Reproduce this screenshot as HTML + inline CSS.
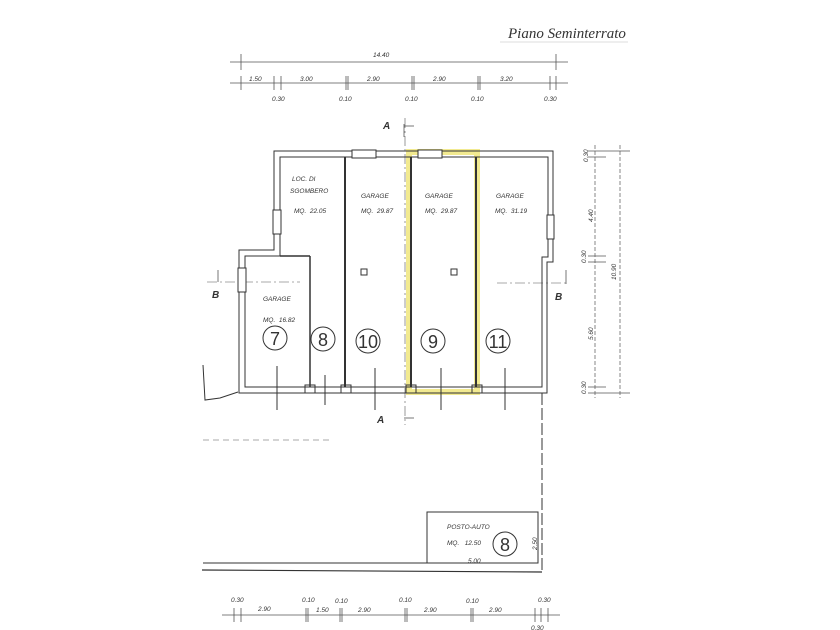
<!DOCTYPE html>
<html><head><meta charset="utf-8"><style>
html,body{margin:0;padding:0;background:#fff;}
svg{display:block}
text{font-family:"Liberation Sans",sans-serif;font-style:italic;fill:#333}
</style></head><body>
<svg width="840" height="630" viewBox="0 0 840 630" xmlns="http://www.w3.org/2000/svg">
<rect width="840" height="630" fill="#fff"/>
<!-- title -->
<text x="508" y="38" font-size="15" style="font-family:'Liberation Serif',serif" fill="#555">Piano Seminterrato</text>
<line x1="500" y1="42" x2="628" y2="42" stroke="#bbb" stroke-width="0.6"/>

<!-- top dimensions -->
<g stroke="#555" stroke-width="0.8" fill="none">
<line x1="230" y1="62" x2="568" y2="62"/>
<line x1="241" y1="54" x2="241" y2="70"/><line x1="556" y1="54" x2="556" y2="70"/>
<line x1="230" y1="83" x2="568" y2="83"/>
<line x1="241" y1="76" x2="241" y2="90"/><line x1="274" y1="76" x2="274" y2="90"/><line x1="281" y1="76" x2="281" y2="90"/>
<line x1="346" y1="76" x2="346" y2="90"/><line x1="348" y1="76" x2="348" y2="90"/>
<line x1="412" y1="76" x2="412" y2="90"/><line x1="414" y1="76" x2="414" y2="90"/>
<line x1="478" y1="76" x2="478" y2="90"/><line x1="480" y1="76" x2="480" y2="90"/>
<line x1="550" y1="76" x2="550" y2="90"/><line x1="556" y1="76" x2="556" y2="90"/>
</g>
<g font-size="6.5">
<text x="373" y="57">14.40</text>
<text x="249" y="81">1.50</text><text x="300" y="81">3.00</text><text x="367" y="81">2.90</text>
<text x="433" y="81">2.90</text><text x="500" y="81">3.20</text>
<text x="272" y="101">0.30</text><text x="339" y="101">0.10</text><text x="405" y="101">0.10</text>
<text x="471" y="101">0.10</text><text x="544" y="101">0.30</text>
</g>

<!-- section A -->
<g stroke="#555" stroke-width="0.8" fill="none">
<line x1="405" y1="118" x2="405" y2="425" stroke-dasharray="10,3,2,3" stroke-width="0.6"/>
<line x1="404" y1="126" x2="414" y2="126"/><line x1="404" y1="124" x2="404" y2="137"/>
<line x1="404" y1="418" x2="414" y2="418"/>
<line x1="207" y1="282" x2="300" y2="282" stroke-dasharray="10,3,2,3" stroke-width="0.6"/>
<line x1="497" y1="283" x2="568" y2="283" stroke-dasharray="10,3,2,3" stroke-width="0.6"/>
<line x1="218" y1="270" x2="218" y2="282"/><line x1="566" y1="270" x2="566" y2="284"/>
</g>
<g font-size="10" font-weight="bold">
<text x="383" y="129">A</text><text x="377" y="423">A</text>
<text x="212" y="298">B</text><text x="555" y="300">B</text>
</g>

<!-- highlight -->
<rect x="409" y="152" width="68" height="240" fill="none" stroke="#f2ea90" stroke-width="6"/>

<!-- walls -->
<g stroke="#333" stroke-width="1" fill="none">
<path d="M274,151 L553,151 L553,262 L547,262 L547,393 L239,393 L239,250 L274,250 Z"/>
<path d="M280,157 L548,157 L548,257 L542,257 L542,387 L245,387 L245,256 L280,256 Z"/>
<line x1="345" y1="157" x2="345" y2="387" stroke-width="2"/>
<line x1="411" y1="157" x2="411" y2="387" stroke-width="2"/>
<line x1="476" y1="157" x2="476" y2="387" stroke-width="2"/>
<line x1="280" y1="256" x2="310" y2="256" stroke-width="1.5"/>
<line x1="310" y1="256" x2="310" y2="387" stroke-width="1.5"/>
<!-- windows -->
<rect x="352" y="150" width="24" height="8" fill="#fff"/>
<rect x="418" y="150" width="24" height="8" fill="#fff"/>
<rect x="273" y="210" width="8" height="24" fill="#fff"/>
<rect x="547" y="215" width="7" height="24" fill="#fff"/>
<rect x="238" y="268" width="8" height="24" fill="#fff"/>
<!-- pillars -->
<rect x="361" y="269" width="6" height="6"/><rect x="451" y="269" width="6" height="6"/>
<!-- door marks -->
<rect x="305" y="385" width="10" height="8"/><rect x="341" y="385" width="10" height="8"/>
<rect x="406" y="385" width="10" height="8"/><rect x="472" y="385" width="10" height="8"/>
<line x1="277" y1="366" x2="277" y2="410"/><line x1="325" y1="375" x2="325" y2="405"/>
<line x1="375" y1="368" x2="375" y2="410"/><line x1="441" y1="368" x2="441" y2="410"/>
<line x1="505" y1="368" x2="505" y2="410"/>
<!-- left terrain -->
<path d="M203,365 L205,400 L220,398 L238,392"/>
<!-- lower boundary -->
<line x1="542" y1="393" x2="542" y2="572" stroke-dasharray="12,3"/>
<line x1="202" y1="570" x2="542" y2="572" stroke-width="1.2"/>
<line x1="203" y1="563" x2="427" y2="563"/>
<rect x="427" y="512" width="111" height="51"/>
<line x1="203" y1="440" x2="330" y2="440" stroke="#aaa" stroke-dasharray="6,4"/>
</g>

<!-- room labels -->
<g font-size="6.5">
<text x="292" y="181">LOC. DI</text><text x="290" y="193">SGOMBERO</text><text x="294" y="213">MQ.&#160;&#160;22.05</text>
<text x="361" y="198">GARAGE</text><text x="361" y="213">MQ.&#160;&#160;29.87</text>
<text x="425" y="198">GARAGE</text><text x="425" y="213">MQ.&#160;&#160;29.87</text>
<text x="496" y="198">GARAGE</text><text x="495" y="213">MQ.&#160;&#160;31.19</text>
<text x="263" y="301">GARAGE</text><text x="263" y="322">MQ.&#160;&#160;16.82</text>
<text x="447" y="529">POSTO-AUTO</text><text x="447" y="545">MQ.&#160;&#160;&#160;12.50</text>
<text x="468" y="563">5.00</text>
</g>
<g fill="none" stroke="#333" stroke-width="1">
<circle cx="275" cy="338" r="12"/><circle cx="323" cy="339" r="12"/>
<circle cx="368" cy="341" r="12"/><circle cx="433" cy="341" r="12"/><circle cx="498" cy="341" r="12"/>
<circle cx="505" cy="544" r="12"/>
</g>
<g font-size="18" style="font-family:'Liberation Sans',sans-serif" text-anchor="middle">
<text x="275" y="345" style="font-style:normal">7</text><text x="323" y="346" style="font-style:normal">8</text>
<text x="368" y="348" style="font-style:normal">10</text><text x="433" y="348" style="font-style:normal">9</text>
<text x="498" y="348" style="font-style:normal">11</text><text x="505" y="551" style="font-style:normal">8</text>
</g>

<!-- right dims -->
<g stroke="#555" stroke-width="0.7" fill="none">
<line x1="595" y1="145" x2="595" y2="398" stroke-dasharray="4,2"/>
<line x1="620" y1="145" x2="620" y2="398" stroke-dasharray="4,2"/>
<line x1="588" y1="151" x2="630" y2="151"/><line x1="588" y1="157" x2="606" y2="157"/>
<line x1="588" y1="256" x2="606" y2="256"/><line x1="588" y1="262" x2="606" y2="262"/>
<line x1="588" y1="387" x2="606" y2="387"/><line x1="588" y1="393" x2="630" y2="393"/>
</g>
<g font-size="6.5">
<text transform="translate(588,162) rotate(-90)">0.30</text>
<text transform="translate(593,222) rotate(-90)">4.40</text>
<text transform="translate(586,263) rotate(-90)">0.30</text>
<text transform="translate(616,280) rotate(-90)">10.90</text>
<text transform="translate(593,340) rotate(-90)">5.60</text>
<text transform="translate(586,394) rotate(-90)">0.30</text>
<text transform="translate(537,550) rotate(-90)">2.50</text>
</g>

<!-- bottom dims -->
<g stroke="#555" stroke-width="0.8" fill="none">
<line x1="222" y1="615" x2="560" y2="615"/>
<line x1="234" y1="608" x2="234" y2="622"/><line x1="241" y1="608" x2="241" y2="622"/>
<line x1="306" y1="608" x2="306" y2="622"/><line x1="308" y1="608" x2="308" y2="622"/>
<line x1="340" y1="608" x2="340" y2="622"/><line x1="342" y1="608" x2="342" y2="622"/>
<line x1="405" y1="608" x2="405" y2="622"/><line x1="407" y1="608" x2="407" y2="622"/>
<line x1="471" y1="608" x2="471" y2="622"/><line x1="473" y1="608" x2="473" y2="622"/>
<line x1="535" y1="608" x2="535" y2="622"/><line x1="541" y1="608" x2="541" y2="622"/><line x1="548" y1="608" x2="548" y2="622"/>
</g>
<g font-size="6.5">
<text x="231" y="602">0.30</text><text x="258" y="611">2.90</text>
<text x="302" y="602">0.10</text><text x="316" y="612">1.50</text><text x="335" y="603">0.10</text>
<text x="358" y="612">2.90</text><text x="399" y="602">0.10</text><text x="424" y="612">2.90</text>
<text x="466" y="603">0.10</text><text x="489" y="612">2.90</text><text x="538" y="602">0.30</text>
<text x="531" y="630">0.30</text>
</g>
</svg>
</body></html>
